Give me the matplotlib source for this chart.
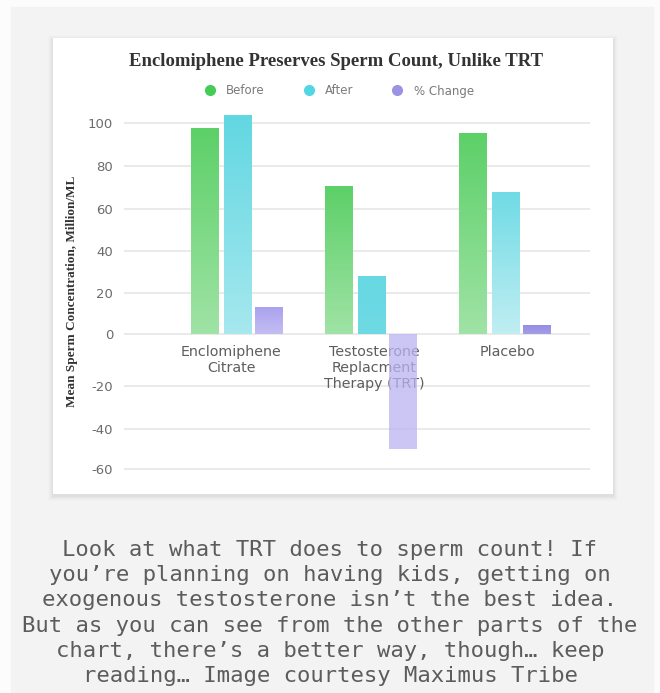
import numpy as np
import matplotlib
matplotlib.use('Agg')
import matplotlib.pyplot as plt
import matplotlib.transforms as mtransforms
from matplotlib.patches import Rectangle
from matplotlib.lines import Line2D
from matplotlib.colors import to_rgba

# --- data ---
categories = ['Enclomiphene\nCitrate', 'Testosterone\nReplacment\nTherapy (TRT)', 'Placebo']
before = [97.5, 70.5, 95]
after = [103.5, 28, 67.5]
pct_change = [13, -50, 4]
series_names = ['Before', 'After', '% Change']
y_ticks = [-60, -40, -20, 0, 20, 40, 60, 80, 100]

caption = ("Look at what TRT does to sperm count! If\n"
           "you\u2019re planning on having kids, getting on\n"
           "exogenous testosterone isn\u2019t the best idea.\n"
           "But as you can see from the other parts of the\n"
           "chart, there\u2019s a better way, though\u2026 keep\n"
           "reading\u2026 Image courtesy Maximus Tribe")

# --- styling ---
W, H = 660, 693
legend_colors = ['#45cc57', '#52d6e4', '#9b93e3']
# (top, bottom) fill for every bar, per series
bar_fills = [
    [('#5dd068', '#9fe3a5'), ('#5dd068', '#9fe3a5'), ('#5dd068', '#9fe3a5')],
    [('#62d7e2', '#a6e8ee'), ('#68d8e3', '#6edae4'), ('#70dbe5', '#c0eef2')],
    [('#aaa2ee', '#c4bef4'), ('#bab4f0', '#bab4f0'), ('#968ce4', '#a59de8')],
]
bar_alpha = [[1, 1, 1], [1, 1, 1], [1, 0.75, 1]]
offsets = [-0.245, 0.0, 0.232]
bar_w = 0.208
label_shift = [-7, 2, 1.5]   # px nudges for the category labels

# y axis spacing is not uniform; tick values mapped onto their gridline rows
scale_vals = np.array([-80, -60, -40, -20, 0, 20, 40, 60, 80, 100, 120], float)
scale_rows = -np.array([508.1, 468.7, 429.3, 385.7, 334, 292.7, 251, 208.7, 166, 122.7, 79.4])


def fwd(v):
    return np.interp(v, scale_vals, scale_rows)


def inv(u):
    return np.interp(u, scale_rows, scale_vals)


def px(x0, y0, x1, y1):
    # pixel box (from top-left) -> figure fraction rect
    return (x0 / W, 1 - y1 / H), (x1 - x0) / W, (y1 - y0) / H


fig = plt.figure(figsize=(W / 100, H / 100), dpi=100, facecolor='#fcfcfc')

# page panel and card with soft shadow
xy, w, h = px(11, 7, 653, 700)
fig.add_artist(Rectangle(xy, w, h, transform=fig.transFigure, color='#f3f3f3', zorder=-20))
for grow, a in [(5, 0.008), (4, 0.01), (3, 0.014), (2, 0.018), (1, 0.025)]:
    xy, w, h = px(53 - grow, 38 - grow + 1.5, 613 + grow, 494 + grow + 1.5)
    fig.add_artist(Rectangle(xy, w, h, transform=fig.transFigure, color='black',
                             alpha=a, lw=0, zorder=-15))
xy, w, h = px(53, 38, 613, 494)
fig.add_artist(Rectangle(xy, w, h, transform=fig.transFigure, color='white', lw=0, zorder=-10))

ax = fig.add_axes([123.5 / W, 1 - 480 / H, (590 - 123.5) / W, 380 / H])
ax.patch.set_visible(False)
ax.set_yscale('function', functions=(fwd, inv))
ax.set_xlim(-(238 - 123.5) / 134, (590 - 238) / 134)
ax.set_ylim(inv(-480), inv(-100))
ax.set_yticks(y_ticks)
ax.set_yticklabels([str(t) for t in y_ticks])
ax.set_xticks([])
ax.tick_params(axis='y', length=0, pad=7.5, labelsize=9.5, labelcolor='#6b6b6b')
ax.grid(axis='y', color='#e6e6e6', lw=1.2)
ax.set_axisbelow(True)
for s in ax.spines.values():
    s.set_visible(False)

x = np.arange(len(categories))
to_axes = ax.transScale + ax.transLimits
for k, vals in enumerate([before, after, pct_change]):
    bars = ax.bar(x + offsets[k], vals, width=bar_w, color='none', lw=0, zorder=3)
    for i, b in enumerate(bars):
        x0, y0 = b.get_x(), min(0, vals[i])
        x1, y1 = x0 + b.get_width(), max(0, vals[i])
        (ax0, ay0), (ax1, ay1) = to_axes.transform([(x0, y0), (x1, y1)])
        top, bottom = bar_fills[k][i]
        if vals[i] < 0:
            top, bottom = bottom, top
        t = np.linspace(0, 1, 64)[:, None]
        grad = (1 - t) * np.array(to_rgba(top)) + t * np.array(to_rgba(bottom))
        grad[:, 3] = bar_alpha[k][i]
        ax.imshow(grad[:, None, :], extent=[ax0, ax1, ay0, ay1], transform=ax.transAxes,
                  aspect='auto', interpolation='bilinear', zorder=3)

# category labels sit just under the zero line
for xi, cat, dx in zip(x, categories, label_shift):
    tf = mtransforms.offset_copy(ax.transData, fig=fig, x=dx, y=-11, units='dots')
    ax.text(xi, 0, cat, transform=tf, ha='center', va='top', fontsize=10.3,
            color='#5e5e5e', linespacing=1.17, zorder=2)

fig.text(336 / W, 1 - 62 / H, 'Enclomiphene Preserves Sperm Count, Unlike TRT',
         ha='center', va='center', family='Liberation Serif', weight='bold',
         fontsize=13.5, color='#333333')
fig.text(72 / W, 1 - 291.5 / H, 'Mean Sperm Concentration, Million/ML', rotation=90,
         ha='center', va='center', family='Liberation Serif', weight='bold',
         fontsize=9.5, color='#333333')

handles = [Line2D([], [], ls='', marker='o', markersize=8, color=c, markeredgewidth=0)
           for c in legend_colors]
fig.legend(handles, series_names, loc='center', bbox_to_anchor=(339.5 / W, 1 - 91 / H),
           ncol=3, frameon=False, fontsize=8.5, handlelength=0.8, handletextpad=1.0,
           columnspacing=3.3, labelcolor='#7a7a7a')

fig.text(0.5, 1 - 613 / H, caption, ha='center', va='center', family='DejaVu Sans Mono',
         fontsize=16, color='#5c5c5c', linespacing=1.33)

fig.savefig('out.png', dpi=100, facecolor=fig.get_facecolor())
